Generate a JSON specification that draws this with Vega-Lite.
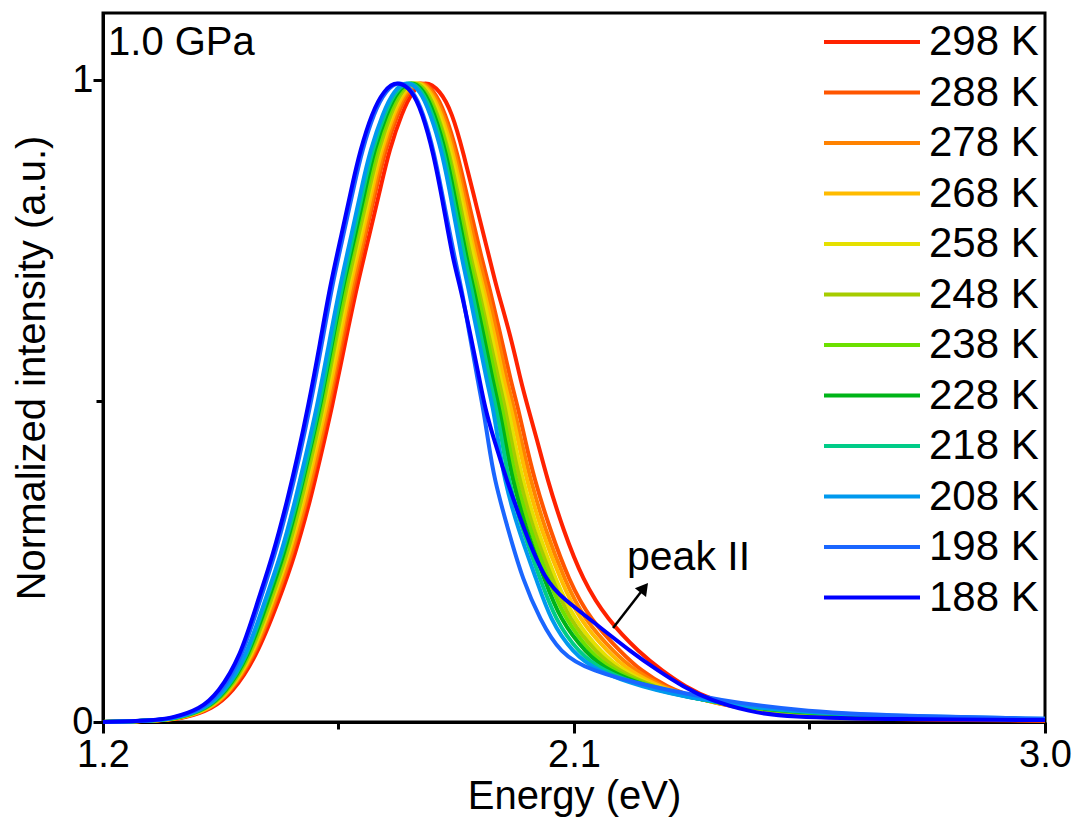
{
"$schema":"https://vega.github.io/schema/vega-lite/v6.json",
"width":942,"height":709,
"autosize":{"type":"none"},
"padding":{"left":103,"top":13,"right":34,"bottom":100},
"background":"white",
"config":{"view":{"stroke":"black","strokeWidth":3},"font":"Liberation Sans"},
"datasets":{
"spectra":[
{"T":"298 K","E":1.2,"I":0},{"T":"298 K","E":1.3089,"I":0.002},{"T":"298 K","E":1.3567,"I":0.006},{"T":"298 K","E":1.4083,"I":0.02},{"T":"298 K","E":1.4465,"I":0.045},{"T":"298 K","E":1.4924,"I":0.1},{"T":"298 K","E":1.5363,"I":0.19},{"T":"298 K","E":1.5669,"I":0.26},{"T":"298 K","E":1.5975,"I":0.35},{"T":"298 K","E":1.6147,"I":0.41},{"T":"298 K","E":1.6376,"I":0.49},{"T":"298 K","E":1.6624,"I":0.59},{"T":"298 K","E":1.6854,"I":0.68},{"T":"298 K","E":1.7094,"I":0.76},{"T":"298 K","E":1.7324,"I":0.84},{"T":"298 K","E":1.7465,"I":0.89},{"T":"298 K","E":1.7713,"I":0.95},{"T":"298 K","E":1.7924,"I":0.985},{"T":"298 K","E":1.8153,"I":1},
{"T":"298 K","E":1.8439,"I":0.985},{"T":"298 K","E":1.8669,"I":0.95},{"T":"298 K","E":1.8879,"I":0.89},{"T":"298 K","E":1.9147,"I":0.8},{"T":"298 K","E":1.9395,"I":0.72},{"T":"298 K","E":1.951,"I":0.68},{"T":"298 K","E":1.9796,"I":0.6},{"T":"298 K","E":1.9987,"I":0.53},{"T":"298 K","E":2.0121,"I":0.49},{"T":"298 K","E":2.0293,"I":0.44},{"T":"298 K","E":2.0484,"I":0.38},{"T":"298 K","E":2.079,"I":0.3},{"T":"298 K","E":2.1172,"I":0.22},{"T":"298 K","E":2.1631,"I":0.16},{"T":"298 K","E":2.2261,"I":0.107},{"T":"298 K","E":2.2682,"I":0.08},{"T":"298 K","E":2.3121,"I":0.055},{"T":"298 K","E":2.3637,"I":0.034},{"T":"298 K","E":2.4459,"I":0.016},{"T":"298 K","E":2.5414,"I":0.008},{"T":"298 K","E":2.7229,"I":0.004},{"T":"298 K","E":3.0,"I":0.002},

{"T":"288 K","E":1.2,"I":0},{"T":"288 K","E":1.307,"I":0.002},{"T":"288 K","E":1.3529,"I":0.006},{"T":"288 K","E":1.4045,"I":0.02},{"T":"288 K","E":1.4427,"I":0.045},{"T":"288 K","E":1.4885,"I":0.1},{"T":"288 K","E":1.5306,"I":0.19},{"T":"288 K","E":1.5611,"I":0.26},{"T":"288 K","E":1.5917,"I":0.35},{"T":"288 K","E":1.6089,"I":0.41},{"T":"288 K","E":1.6318,"I":0.49},{"T":"288 K","E":1.6567,"I":0.59},{"T":"288 K","E":1.6796,"I":0.68},{"T":"288 K","E":1.7017,"I":0.76},{"T":"288 K","E":1.7247,"I":0.84},{"T":"288 K","E":1.7389,"I":0.89},{"T":"288 K","E":1.7637,"I":0.95},{"T":"288 K","E":1.7847,"I":0.985},{"T":"288 K","E":1.8076,"I":1},
{"T":"288 K","E":1.8325,"I":0.985},{"T":"288 K","E":1.8535,"I":0.95},{"T":"288 K","E":1.8764,"I":0.89},{"T":"288 K","E":1.9013,"I":0.8},{"T":"288 K","E":1.9242,"I":0.72},{"T":"288 K","E":1.9376,"I":0.68},{"T":"288 K","E":1.9605,"I":0.6},{"T":"288 K","E":1.9796,"I":0.53},{"T":"288 K","E":1.993,"I":0.49},{"T":"288 K","E":2.0064,"I":0.44},{"T":"288 K","E":2.0236,"I":0.38},{"T":"288 K","E":2.0541,"I":0.3},{"T":"288 K","E":2.0904,"I":0.22},{"T":"288 K","E":2.1306,"I":0.16},{"T":"288 K","E":2.1917,"I":0.107},{"T":"288 K","E":2.228,"I":0.08},{"T":"288 K","E":2.2758,"I":0.055},{"T":"288 K","E":2.3408,"I":0.034},{"T":"288 K","E":2.4516,"I":0.016},{"T":"288 K","E":2.6006,"I":0.008},{"T":"288 K","E":3.0,"I":0.002},

{"T":"278 K","E":1.2,"I":0},{"T":"278 K","E":1.3051,"I":0.002},{"T":"278 K","E":1.351,"I":0.006},{"T":"278 K","E":1.4045,"I":0.02},{"T":"278 K","E":1.4408,"I":0.045},{"T":"278 K","E":1.4866,"I":0.1},{"T":"278 K","E":1.5287,"I":0.19},{"T":"278 K","E":1.5592,"I":0.26},{"T":"278 K","E":1.5898,"I":0.35},{"T":"278 K","E":1.607,"I":0.41},{"T":"278 K","E":1.6299,"I":0.49},{"T":"278 K","E":1.6529,"I":0.59},{"T":"278 K","E":1.6758,"I":0.68},{"T":"278 K","E":1.6998,"I":0.76},{"T":"278 K","E":1.7209,"I":0.84},{"T":"278 K","E":1.735,"I":0.89},{"T":"278 K","E":1.7599,"I":0.95},{"T":"278 K","E":1.7809,"I":0.985},{"T":"278 K","E":1.8057,"I":1},
{"T":"278 K","E":1.8287,"I":0.985},{"T":"278 K","E":1.8497,"I":0.95},{"T":"278 K","E":1.8726,"I":0.89},{"T":"278 K","E":1.8955,"I":0.8},{"T":"278 K","E":1.9185,"I":0.72},{"T":"278 K","E":1.9318,"I":0.68},{"T":"278 K","E":1.9548,"I":0.6},{"T":"278 K","E":1.972,"I":0.53},{"T":"278 K","E":1.9854,"I":0.49},{"T":"278 K","E":1.9987,"I":0.44},{"T":"278 K","E":2.0159,"I":0.38},{"T":"278 K","E":2.0446,"I":0.3},{"T":"278 K","E":2.0828,"I":0.22},{"T":"278 K","E":2.1191,"I":0.16},{"T":"278 K","E":2.1783,"I":0.107},{"T":"278 K","E":2.2166,"I":0.08},{"T":"278 K","E":2.2682,"I":0.055},{"T":"278 K","E":2.3408,"I":0.034},{"T":"278 K","E":2.4592,"I":0.016},{"T":"278 K","E":2.6236,"I":0.008},{"T":"278 K","E":3.0,"I":0.003},

{"T":"268 K","E":1.2,"I":0},{"T":"268 K","E":1.3032,"I":0.002},{"T":"268 K","E":1.349,"I":0.006},{"T":"268 K","E":1.4026,"I":0.02},{"T":"268 K","E":1.4389,"I":0.045},{"T":"268 K","E":1.4847,"I":0.1},{"T":"268 K","E":1.5248,"I":0.19},{"T":"268 K","E":1.5554,"I":0.26},{"T":"268 K","E":1.586,"I":0.35},{"T":"268 K","E":1.6032,"I":0.41},{"T":"268 K","E":1.6261,"I":0.49},{"T":"268 K","E":1.651,"I":0.59},{"T":"268 K","E":1.672,"I":0.68},{"T":"268 K","E":1.696,"I":0.76},{"T":"268 K","E":1.7171,"I":0.84},{"T":"268 K","E":1.7312,"I":0.89},{"T":"268 K","E":1.7561,"I":0.95},{"T":"268 K","E":1.7771,"I":0.985},{"T":"268 K","E":1.8019,"I":1},
{"T":"268 K","E":1.8248,"I":0.985},{"T":"268 K","E":1.8459,"I":0.95},{"T":"268 K","E":1.8688,"I":0.89},{"T":"268 K","E":1.8917,"I":0.8},{"T":"268 K","E":1.9127,"I":0.72},{"T":"268 K","E":1.9261,"I":0.68},{"T":"268 K","E":1.949,"I":0.6},{"T":"268 K","E":1.9662,"I":0.53},{"T":"268 K","E":1.9796,"I":0.49},{"T":"268 K","E":1.993,"I":0.44},{"T":"268 K","E":2.0083,"I":0.38},{"T":"268 K","E":2.0369,"I":0.3},{"T":"268 K","E":2.0752,"I":0.22},{"T":"268 K","E":2.1096,"I":0.16},{"T":"268 K","E":2.1669,"I":0.107},{"T":"268 K","E":2.2051,"I":0.08},{"T":"268 K","E":2.2624,"I":0.055},{"T":"268 K","E":2.3408,"I":0.034},{"T":"268 K","E":2.4669,"I":0.016},{"T":"268 K","E":2.6446,"I":0.008},{"T":"268 K","E":3.0,"I":0.003},

{"T":"258 K","E":1.2,"I":0},{"T":"258 K","E":1.3013,"I":0.002},{"T":"258 K","E":1.3471,"I":0.006},{"T":"258 K","E":1.4006,"I":0.02},{"T":"258 K","E":1.4369,"I":0.045},{"T":"258 K","E":1.4828,"I":0.1},{"T":"258 K","E":1.5229,"I":0.19},{"T":"258 K","E":1.5535,"I":0.26},{"T":"258 K","E":1.5822,"I":0.35},{"T":"258 K","E":1.5994,"I":0.41},{"T":"258 K","E":1.6223,"I":0.49},{"T":"258 K","E":1.6471,"I":0.59},{"T":"258 K","E":1.6682,"I":0.68},{"T":"258 K","E":1.6922,"I":0.76},{"T":"258 K","E":1.7133,"I":0.84},{"T":"258 K","E":1.7274,"I":0.89},{"T":"258 K","E":1.7522,"I":0.95},{"T":"258 K","E":1.7732,"I":0.985},{"T":"258 K","E":1.7981,"I":1},
{"T":"258 K","E":1.821,"I":0.985},{"T":"258 K","E":1.842,"I":0.95},{"T":"258 K","E":1.865,"I":0.89},{"T":"258 K","E":1.8879,"I":0.8},{"T":"258 K","E":1.9089,"I":0.72},{"T":"258 K","E":1.9223,"I":0.68},{"T":"258 K","E":1.9433,"I":0.6},{"T":"258 K","E":1.9605,"I":0.53},{"T":"258 K","E":1.9739,"I":0.49},{"T":"258 K","E":1.9854,"I":0.44},{"T":"258 K","E":2.0006,"I":0.38},{"T":"258 K","E":2.0293,"I":0.3},{"T":"258 K","E":2.0656,"I":0.22},{"T":"258 K","E":2.1,"I":0.16},{"T":"258 K","E":2.1535,"I":0.107},{"T":"258 K","E":2.1936,"I":0.08},{"T":"258 K","E":2.2548,"I":0.055},{"T":"258 K","E":2.3408,"I":0.034},{"T":"258 K","E":2.4726,"I":0.016},{"T":"258 K","E":2.6656,"I":0.008},{"T":"258 K","E":3.0,"I":0.003},

{"T":"248 K","E":1.2,"I":0},{"T":"248 K","E":1.3013,"I":0.002},{"T":"248 K","E":1.3471,"I":0.006},{"T":"248 K","E":1.3987,"I":0.02},{"T":"248 K","E":1.4369,"I":0.045},{"T":"248 K","E":1.4809,"I":0.1},{"T":"248 K","E":1.521,"I":0.19},{"T":"248 K","E":1.5516,"I":0.26},{"T":"248 K","E":1.5803,"I":0.35},{"T":"248 K","E":1.5975,"I":0.41},{"T":"248 K","E":1.6204,"I":0.49},{"T":"248 K","E":1.6433,"I":0.59},{"T":"248 K","E":1.6662,"I":0.68},{"T":"248 K","E":1.6884,"I":0.76},{"T":"248 K","E":1.7114,"I":0.84},{"T":"248 K","E":1.7255,"I":0.89},{"T":"248 K","E":1.7503,"I":0.95},{"T":"248 K","E":1.7713,"I":0.985},{"T":"248 K","E":1.7943,"I":1},
{"T":"248 K","E":1.8191,"I":0.985},{"T":"248 K","E":1.8382,"I":0.95},{"T":"248 K","E":1.8611,"I":0.89},{"T":"248 K","E":1.8841,"I":0.8},{"T":"248 K","E":1.9032,"I":0.72},{"T":"248 K","E":1.9166,"I":0.68},{"T":"248 K","E":1.9376,"I":0.6},{"T":"248 K","E":1.9567,"I":0.53},{"T":"248 K","E":1.9682,"I":0.49},{"T":"248 K","E":1.9796,"I":0.44},{"T":"248 K","E":1.9949,"I":0.38},{"T":"248 K","E":2.0217,"I":0.3},{"T":"248 K","E":2.0599,"I":0.22},{"T":"248 K","E":2.0904,"I":0.16},{"T":"248 K","E":2.1439,"I":0.107},{"T":"248 K","E":2.1841,"I":0.08},{"T":"248 K","E":2.251,"I":0.055},{"T":"248 K","E":2.3408,"I":0.034},{"T":"248 K","E":2.4803,"I":0.016},{"T":"248 K","E":2.6828,"I":0.008},{"T":"248 K","E":3.0,"I":0.003},

{"T":"238 K","E":1.2,"I":0},{"T":"238 K","E":1.2994,"I":0.002},{"T":"238 K","E":1.3452,"I":0.006},{"T":"238 K","E":1.3968,"I":0.02},{"T":"238 K","E":1.435,"I":0.045},{"T":"238 K","E":1.479,"I":0.1},{"T":"238 K","E":1.5172,"I":0.19},{"T":"238 K","E":1.5478,"I":0.26},{"T":"238 K","E":1.5764,"I":0.35},{"T":"238 K","E":1.5936,"I":0.41},{"T":"238 K","E":1.6166,"I":0.49},{"T":"238 K","E":1.6414,"I":0.59},{"T":"238 K","E":1.6624,"I":0.68},{"T":"238 K","E":1.6845,"I":0.76},{"T":"238 K","E":1.7075,"I":0.84},{"T":"238 K","E":1.7217,"I":0.89},{"T":"238 K","E":1.7465,"I":0.95},{"T":"238 K","E":1.7675,"I":0.985},{"T":"238 K","E":1.7904,"I":1},
{"T":"238 K","E":1.8153,"I":0.985},{"T":"238 K","E":1.8363,"I":0.95},{"T":"238 K","E":1.8592,"I":0.89},{"T":"238 K","E":1.8803,"I":0.8},{"T":"238 K","E":1.8994,"I":0.72},{"T":"238 K","E":1.9127,"I":0.68},{"T":"238 K","E":1.9338,"I":0.6},{"T":"238 K","E":1.951,"I":0.53},{"T":"238 K","E":1.9624,"I":0.49},{"T":"238 K","E":1.9739,"I":0.44},{"T":"238 K","E":1.9873,"I":0.38},{"T":"238 K","E":2.0159,"I":0.3},{"T":"238 K","E":2.0522,"I":0.22},{"T":"238 K","E":2.0828,"I":0.16},{"T":"238 K","E":2.1325,"I":0.107},{"T":"238 K","E":2.1745,"I":0.08},{"T":"238 K","E":2.2452,"I":0.055},{"T":"238 K","E":2.3408,"I":0.034},{"T":"238 K","E":2.486,"I":0.016},{"T":"238 K","E":2.7019,"I":0.008},{"T":"238 K","E":3.0,"I":0.004},

{"T":"228 K","E":1.2,"I":0},{"T":"228 K","E":1.2975,"I":0.002},{"T":"228 K","E":1.3433,"I":0.006},{"T":"228 K","E":1.3968,"I":0.02},{"T":"228 K","E":1.4331,"I":0.045},{"T":"228 K","E":1.4771,"I":0.1},{"T":"228 K","E":1.5153,"I":0.19},{"T":"228 K","E":1.5459,"I":0.26},{"T":"228 K","E":1.5745,"I":0.35},{"T":"228 K","E":1.5917,"I":0.41},{"T":"228 K","E":1.6147,"I":0.49},{"T":"228 K","E":1.6376,"I":0.59},{"T":"228 K","E":1.6586,"I":0.68},{"T":"228 K","E":1.6826,"I":0.76},{"T":"228 K","E":1.7037,"I":0.84},{"T":"228 K","E":1.7178,"I":0.89},{"T":"228 K","E":1.7427,"I":0.95},{"T":"228 K","E":1.7637,"I":0.985},{"T":"228 K","E":1.7885,"I":1},
{"T":"228 K","E":1.8134,"I":0.985},{"T":"228 K","E":1.8325,"I":0.95},{"T":"228 K","E":1.8554,"I":0.89},{"T":"228 K","E":1.8764,"I":0.8},{"T":"228 K","E":1.8955,"I":0.72},{"T":"228 K","E":1.907,"I":0.68},{"T":"228 K","E":1.928,"I":0.6},{"T":"228 K","E":1.9452,"I":0.53},{"T":"228 K","E":1.9567,"I":0.49},{"T":"228 K","E":1.9682,"I":0.44},{"T":"228 K","E":1.9815,"I":0.38},{"T":"228 K","E":2.0083,"I":0.3},{"T":"228 K","E":2.0446,"I":0.22},{"T":"228 K","E":2.0732,"I":0.16},{"T":"228 K","E":2.1229,"I":0.107},{"T":"228 K","E":2.165,"I":0.08},{"T":"228 K","E":2.2395,"I":0.055},{"T":"228 K","E":2.3408,"I":0.034},{"T":"228 K","E":2.4917,"I":0.016},{"T":"228 K","E":2.7191,"I":0.008},{"T":"228 K","E":3.0,"I":0.004},

{"T":"218 K","E":1.2,"I":0},{"T":"218 K","E":1.2975,"I":0.002},{"T":"218 K","E":1.3414,"I":0.006},{"T":"218 K","E":1.3949,"I":0.02},{"T":"218 K","E":1.4312,"I":0.045},{"T":"218 K","E":1.4752,"I":0.1},{"T":"218 K","E":1.5115,"I":0.19},{"T":"218 K","E":1.542,"I":0.26},{"T":"218 K","E":1.5726,"I":0.35},{"T":"218 K","E":1.5898,"I":0.41},{"T":"218 K","E":1.6127,"I":0.49},{"T":"218 K","E":1.6357,"I":0.59},{"T":"218 K","E":1.6567,"I":0.68},{"T":"218 K","E":1.6788,"I":0.76},{"T":"218 K","E":1.6999,"I":0.84},{"T":"218 K","E":1.714,"I":0.89},{"T":"218 K","E":1.7389,"I":0.95},{"T":"218 K","E":1.7599,"I":0.985},{"T":"218 K","E":1.7847,"I":1},
{"T":"218 K","E":1.8096,"I":0.985},{"T":"218 K","E":1.8287,"I":0.95},{"T":"218 K","E":1.8516,"I":0.89},{"T":"218 K","E":1.8726,"I":0.8},{"T":"218 K","E":1.8917,"I":0.72},{"T":"218 K","E":1.9032,"I":0.68},{"T":"218 K","E":1.9223,"I":0.6},{"T":"218 K","E":1.9395,"I":0.53},{"T":"218 K","E":1.951,"I":0.49},{"T":"218 K","E":1.9624,"I":0.44},{"T":"218 K","E":1.9739,"I":0.38},{"T":"218 K","E":2.0006,"I":0.3},{"T":"218 K","E":2.0369,"I":0.22},{"T":"218 K","E":2.0637,"I":0.16},{"T":"218 K","E":2.1096,"I":0.107},{"T":"218 K","E":2.1554,"I":0.08},{"T":"218 K","E":2.2318,"I":0.055},{"T":"218 K","E":2.3408,"I":0.034},{"T":"218 K","E":2.4994,"I":0.016},{"T":"218 K","E":2.7401,"I":0.008},{"T":"218 K","E":3.0,"I":0.004},

{"T":"208 K","E":1.2,"I":0},{"T":"208 K","E":1.2955,"I":0.002},{"T":"208 K","E":1.3395,"I":0.006},{"T":"208 K","E":1.393,"I":0.02},{"T":"208 K","E":1.4293,"I":0.045},{"T":"208 K","E":1.4732,"I":0.1},{"T":"208 K","E":1.5096,"I":0.19},{"T":"208 K","E":1.5401,"I":0.26},{"T":"208 K","E":1.5688,"I":0.35},{"T":"208 K","E":1.586,"I":0.41},{"T":"208 K","E":1.6089,"I":0.49},{"T":"208 K","E":1.6318,"I":0.59},{"T":"208 K","E":1.6529,"I":0.68},{"T":"208 K","E":1.675,"I":0.76},{"T":"208 K","E":1.6961,"I":0.84},{"T":"208 K","E":1.7102,"I":0.89},{"T":"208 K","E":1.735,"I":0.95},{"T":"208 K","E":1.7561,"I":0.985},{"T":"208 K","E":1.7809,"I":1},
{"T":"208 K","E":1.8057,"I":0.985},{"T":"208 K","E":1.8248,"I":0.95},{"T":"208 K","E":1.8478,"I":0.89},{"T":"208 K","E":1.8688,"I":0.8},{"T":"208 K","E":1.886,"I":0.72},{"T":"208 K","E":1.8975,"I":0.68},{"T":"208 K","E":1.9166,"I":0.6},{"T":"208 K","E":1.9338,"I":0.53},{"T":"208 K","E":1.9452,"I":0.49},{"T":"208 K","E":1.9548,"I":0.44},{"T":"208 K","E":1.9662,"I":0.38},{"T":"208 K","E":1.993,"I":0.3},{"T":"208 K","E":2.0293,"I":0.22},{"T":"208 K","E":2.0541,"I":0.16},{"T":"208 K","E":2.0981,"I":0.107},{"T":"208 K","E":2.1439,"I":0.08},{"T":"208 K","E":2.2261,"I":0.055},{"T":"208 K","E":2.3408,"I":0.034},{"T":"208 K","E":2.507,"I":0.016},{"T":"208 K","E":2.7611,"I":0.008},{"T":"208 K","E":3.0,"I":0.005},

{"T":"198 K","E":1.2,"I":0},{"T":"198 K","E":1.2936,"I":0.002},{"T":"198 K","E":1.3357,"I":0.006},{"T":"198 K","E":1.3892,"I":0.02},{"T":"198 K","E":1.4236,"I":0.045},{"T":"198 K","E":1.4656,"I":0.1},{"T":"198 K","E":1.5,"I":0.19},{"T":"198 K","E":1.5287,"I":0.26},{"T":"198 K","E":1.5573,"I":0.35},{"T":"198 K","E":1.5745,"I":0.41},{"T":"198 K","E":1.5955,"I":0.49},{"T":"198 K","E":1.6185,"I":0.59},{"T":"198 K","E":1.6376,"I":0.68},{"T":"198 K","E":1.6597,"I":0.76},{"T":"198 K","E":1.6808,"I":0.84},{"T":"198 K","E":1.6949,"I":0.89},{"T":"198 K","E":1.7178,"I":0.95},{"T":"198 K","E":1.7408,"I":0.985},{"T":"198 K","E":1.7656,"I":1},
{"T":"198 K","E":1.7924,"I":0.985},{"T":"198 K","E":1.8115,"I":0.95},{"T":"198 K","E":1.8325,"I":0.89},{"T":"198 K","E":1.8535,"I":0.8},{"T":"198 K","E":1.8726,"I":0.72},{"T":"198 K","E":1.8841,"I":0.68},{"T":"198 K","E":1.9013,"I":0.6},{"T":"198 K","E":1.9166,"I":0.53},{"T":"198 K","E":1.9261,"I":0.49},{"T":"198 K","E":1.9357,"I":0.44},{"T":"198 K","E":1.9471,"I":0.38},{"T":"198 K","E":1.9739,"I":0.3},{"T":"198 K","E":2.0026,"I":0.22},{"T":"198 K","E":2.035,"I":0.16},{"T":"198 K","E":2.0732,"I":0.107},{"T":"198 K","E":2.1306,"I":0.08},{"T":"198 K","E":2.2452,"I":0.055},{"T":"198 K","E":2.379,"I":0.034},{"T":"198 K","E":2.5318,"I":0.016},{"T":"198 K","E":2.7803,"I":0.008},{"T":"198 K","E":3.0,"I":0.005},

{"T":"188 K","E":1.2,"I":0},{"T":"188 K","E":1.2898,"I":0.002},{"T":"188 K","E":1.3318,"I":0.006},{"T":"188 K","E":1.3854,"I":0.02},{"T":"188 K","E":1.4197,"I":0.045},{"T":"188 K","E":1.4618,"I":0.1},{"T":"188 K","E":1.4962,"I":0.19},{"T":"188 K","E":1.5248,"I":0.26},{"T":"188 K","E":1.5535,"I":0.35},{"T":"188 K","E":1.5707,"I":0.41},{"T":"188 K","E":1.5917,"I":0.49},{"T":"188 K","E":1.6147,"I":0.59},{"T":"188 K","E":1.6338,"I":0.68},{"T":"188 K","E":1.6559,"I":0.76},{"T":"188 K","E":1.677,"I":0.84},{"T":"188 K","E":1.6911,"I":0.89},{"T":"188 K","E":1.714,"I":0.95},{"T":"188 K","E":1.7369,"I":0.985},{"T":"188 K","E":1.7618,"I":1},
{"T":"188 K","E":1.7904,"I":0.985},{"T":"188 K","E":1.8096,"I":0.95},{"T":"188 K","E":1.8306,"I":0.89},{"T":"188 K","E":1.8516,"I":0.8},{"T":"188 K","E":1.8688,"I":0.72},{"T":"188 K","E":1.8822,"I":0.68},{"T":"188 K","E":1.9032,"I":0.6},{"T":"188 K","E":1.9204,"I":0.53},{"T":"188 K","E":1.9299,"I":0.49},{"T":"188 K","E":1.9471,"I":0.44},{"T":"188 K","E":1.9701,"I":0.38},{"T":"188 K","E":2.0045,"I":0.3},{"T":"188 K","E":2.0446,"I":0.22},{"T":"188 K","E":2.0828,"I":0.19},{"T":"188 K","E":2.1306,"I":0.16},{"T":"188 K","E":2.2127,"I":0.107},{"T":"188 K","E":2.2605,"I":0.08},{"T":"188 K","E":2.3083,"I":0.055},{"T":"188 K","E":2.3599,"I":0.034},{"T":"188 K","E":2.4363,"I":0.016},{"T":"188 K","E":2.4994,"I":0.008},{"T":"188 K","E":2.7229,"I":0.004},{"T":"188 K","E":3.0,"I":0.003}
],
"notes":[
{"label":"1.0 GPa","E":1.2096,"I":1.0395,"fs":"a"},
{"label":"peak II","E":2.2013,"I":0.2369,"fs":"b"}
],
"arrow":[
{"E":2.1746,"I":0.1465,"E2":2.2342,"I2":0.2092}
],
"arrowhead":[
{"E":2.2342,"I":0.2092}
]
},
"layer":[
{
"data":{"name":"spectra"},
"mark":{"type":"line","strokeWidth":4,"interpolate":"basis","strokeJoin":"round"},
"encoding":{
"x":{"field":"E","type":"quantitative","scale":{"domain":[1.2,3.0],"nice":false,"zero":false},
"axis":{"title":"Energy (eV)","values":[1.2,1.65,2.1,2.55,3.0],"labelExpr":"datum.value==1.65||datum.value==2.55 ? '' : format(datum.value,'.1f')","grid":false,"domainColor":"black","domainWidth":3,"tickColor":"black","tickWidth":3,"tickSize":{"condition":{"test":"datum.value==1.65||datum.value==2.55","value":7},"value":11},"labelFontSize":38,"labelFont":"Liberation Sans","labelColor":"black","labelPadding":3,"labelFlush":false,"titleFontSize":40,"titleFont":"Liberation Sans","titleFontWeight":"normal","titleColor":"black","titlePadding":2}},
"y":{"field":"I","type":"quantitative","scale":{"domain":[0,1.105],"nice":false,"zero":false},
"axis":{"title":"Normalized intensity (a.u.)","values":[0,0.5,1],"labelExpr":"datum.value==0.5 ? '' : (datum.value==1 ? '1' : '0')","grid":false,"domainColor":"black","domainWidth":3,"tickColor":"black","tickWidth":3,"tickSize":{"condition":{"test":"datum.value==0.5","value":7},"value":10},"labelFontSize":38,"labelFont":"Liberation Sans","labelColor":"black","labelPadding":0,"labelFlush":false,"titleFontSize":40,"titleFont":"Liberation Sans","titleFontWeight":"normal","titleColor":"black","titlePadding":19,"titleLimit":800}},
"color":{"field":"T","type":"nominal","sort":null,
"scale":{"domain":["298 K","288 K","278 K","268 K","258 K","248 K","238 K","228 K","218 K","208 K","198 K","188 K"],
"range":["#ff2200","#ff5500","#ff8200","#ffbb00","#e5e000","#a6cc00","#6ce000","#00b418","#00cc88","#0099ee","#1a66ff","#0000ff"]},
"legend":{"orient":"none","legendX":748,"legendY":8,"title":null,"symbolType":"M-4.8,0H4.8","symbolSize":400,"symbolStrokeWidth":4,"labelFontSize":42,"labelFont":"Liberation Sans","labelColor":"black","labelOffset":36,"rowPadding":8.5,"padding":0,"labelLimit":300}}
}
},
{
"data":{"name":"arrow"},
"mark":{"type":"rule","color":"black","strokeWidth":2.5},
"encoding":{"x":{"field":"E","type":"quantitative"},"y":{"field":"I","type":"quantitative"},"x2":{"field":"E2"},"y2":{"field":"I2"}}
},
{
"data":{"name":"arrowhead"},
"mark":{"type":"point","shape":"triangle-up","filled":true,"color":"black","size":200,"angle":38,"opacity":1},
"encoding":{"x":{"field":"E","type":"quantitative"},"y":{"field":"I","type":"quantitative"}}
},
{
"data":{"name":"notes"},
"mark":{"type":"text","align":"left","baseline":"alphabetic","font":"Liberation Sans","color":"black"},
"encoding":{"x":{"field":"E","type":"quantitative"},"y":{"field":"I","type":"quantitative"},"text":{"field":"label"},
"size":{"field":"fs","type":"nominal","scale":{"domain":["a","b"],"range":[40,41]},"legend":null}}
}
]
}
